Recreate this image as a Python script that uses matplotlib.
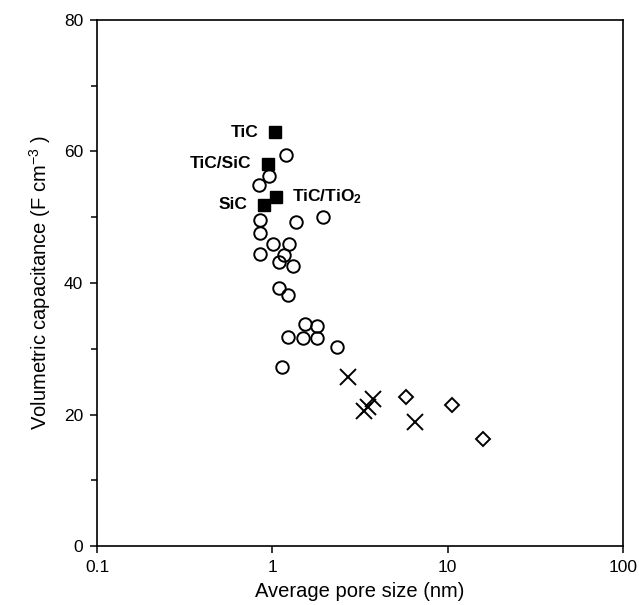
import numpy as np
import matplotlib.pyplot as plt
from matplotlib.ticker import FixedLocator, NullLocator, FixedFormatter

plt.rcParams['font.family'] = ['Liberation Sans', 'DejaVu Sans']
plt.rcParams['mathtext.fontset'] = 'custom'
plt.rcParams['mathtext.rm'] = 'Liberation Sans'
plt.rcParams['mathtext.it'] = 'Liberation Sans:italic'
plt.rcParams['mathtext.bf'] = 'Liberation Sans:bold'

# Carbide-derived carbons (filled squares)
cdc_names = ["TiC", "TiC/SiC", "TiC/TiO$_\\mathbf{2}$", "SiC"]
cdc_pore = [1.03, 0.94, 1.05, 0.89]
cdc_cap = [62.9, 58.1, 53.1, 51.9]

# Open circles
circ_pore = [1.19, 0.96, 0.84, 0.85, 0.85, 1.37, 1.95, 1.01, 1.25, 0.85, 1.17,
             1.09, 1.31, 1.09, 1.23, 1.53, 1.79, 1.22, 1.49, 1.79, 2.35, 1.14]
circ_cap = [59.4, 56.2, 54.9, 49.6, 47.6, 49.2, 50.0, 45.9, 45.9, 44.4, 44.2,
            43.2, 42.6, 39.2, 38.2, 33.7, 33.5, 31.8, 31.6, 31.6, 30.3, 27.2]

# Crosses
x_pore = [2.71, 3.77, 3.52, 3.34, 6.52]
x_cap = [25.7, 22.3, 21.2, 20.6, 18.8]

# Diamonds
dia_pore = [5.79, 10.6, 15.9]
dia_cap = [22.7, 21.4, 16.2]

fig = plt.figure(figsize=(6.39, 6.05), dpi=100)
ax = fig.add_axes([0.152, 0.0975, 0.823, 0.8695])

ax.plot(circ_pore, circ_cap, 'o', ms=9, mfc='none', mec='black', mew=1.4, ls='none')
ax.plot(x_pore, x_cap, 'x', ms=11, mec='black', mew=1.4, ls='none')
ax.plot(dia_pore, dia_cap, 'D', ms=7.5, mfc='none', mec='black', mew=1.4, ls='none')
ax.plot(cdc_pore, cdc_cap, 's', ms=9, mfc='black', mec='black', ls='none')

# labels next to the CDC squares
for name, px, py in zip(cdc_names, cdc_pore, cdc_cap):
    if name.startswith("TiC/TiO"):
        ax.annotate(name, (px, py), xytext=(11.5, 0), textcoords='offset points',
                    ha='left', va='center', fontsize=12.5, fontweight='bold')
    else:
        ax.annotate(name, (px, py), xytext=(-11.5, 0), textcoords='offset points',
                    ha='right', va='center', fontsize=12.5, fontweight='bold')

ax.set_xscale('log')
ax.set_xlim(0.1, 100)
ax.set_ylim(0, 80)
ax.xaxis.set_major_locator(FixedLocator([0.1, 1, 10, 100]))
ax.xaxis.set_major_formatter(FixedFormatter(["0.1", "1", "10", "100"]))
ax.xaxis.set_minor_locator(NullLocator())
ax.set_yticks([0, 20, 40, 60, 80])
ax.set_yticks([10, 30, 50, 70], minor=True)

ax.tick_params(which='both', direction='out', top=False, right=False,
               labelsize=12.5, width=1.1)
ax.tick_params(which='major', length=5, pad=5)
ax.tick_params(which='minor', length=4)
for sp in ax.spines.values():
    sp.set_linewidth(1.2)

ax.set_xlabel("Average pore size (nm)", fontsize=14.5, labelpad=5)
ax.set_ylabel("Volumetric capacitance (F cm$^{-3}$ )", fontsize=14.5, labelpad=8)

fig.savefig("out.png", dpi=100)
